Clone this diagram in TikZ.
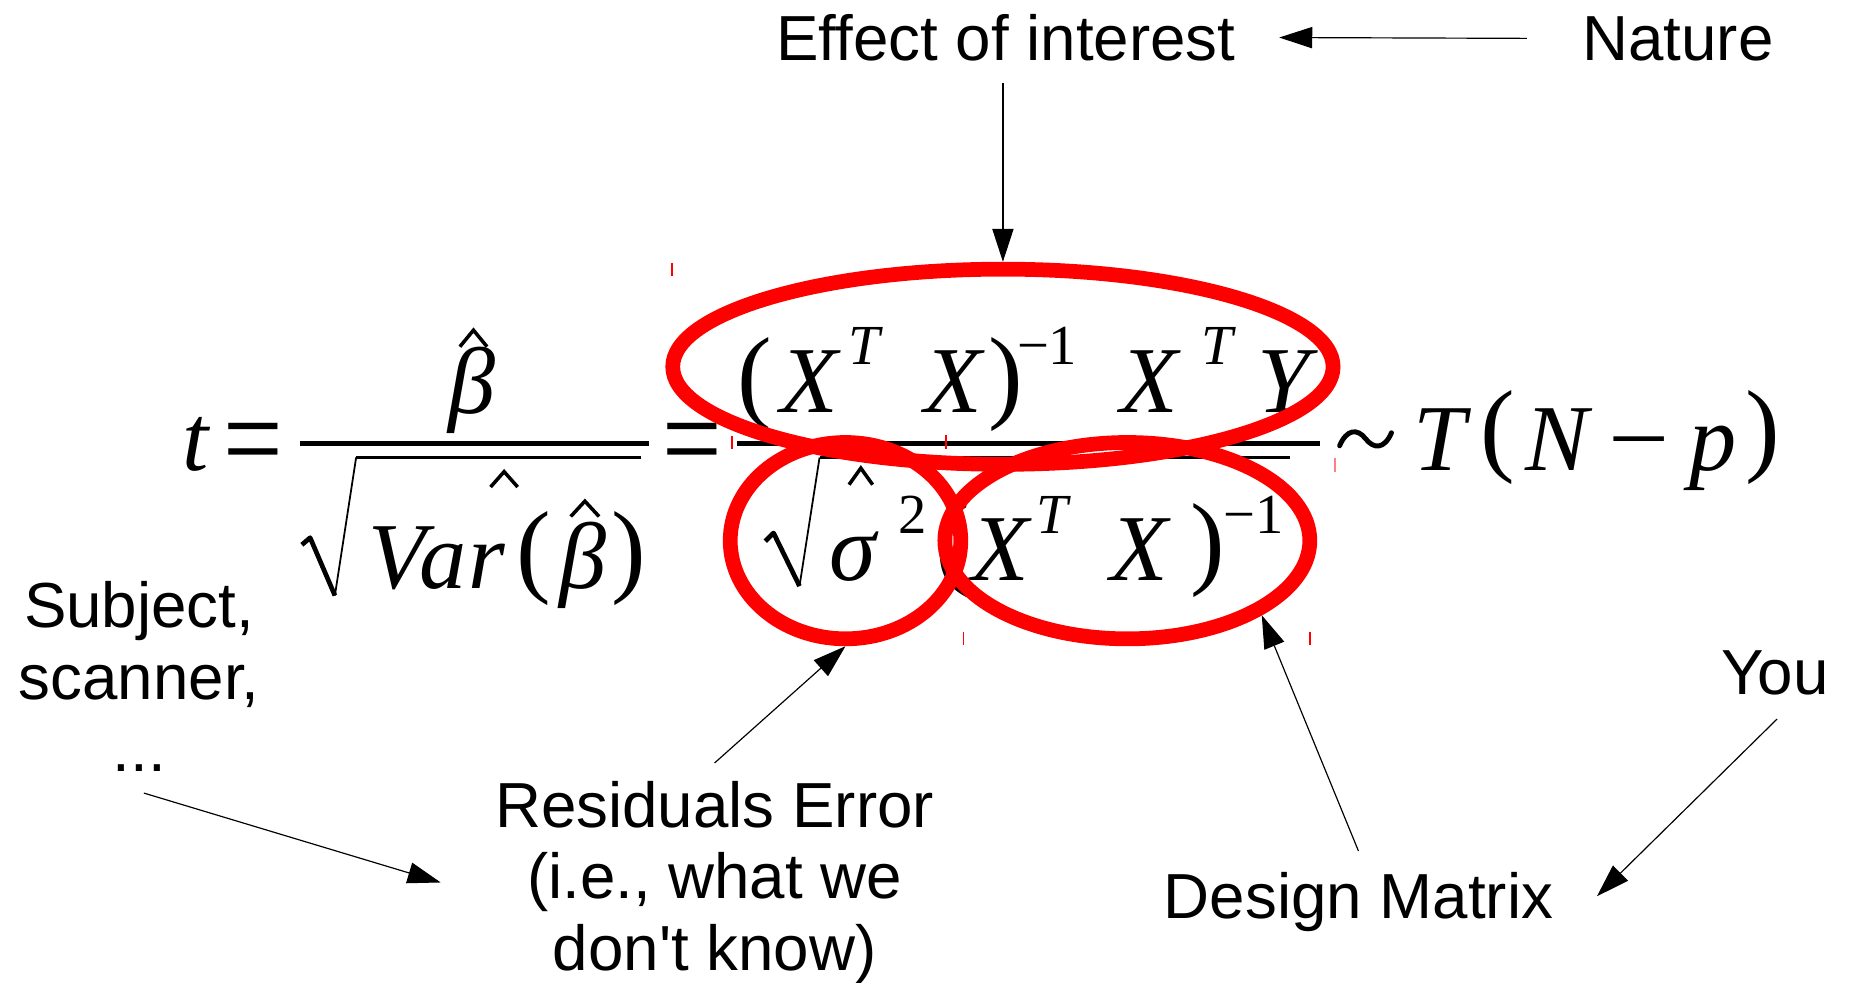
\documentclass[tikz,border=0pt]{standalone}
\usepackage{fontspec}
\usepackage{graphicx}
\setmainfont{Liberation Sans}[Ligatures=TeXOff]
\newfontfamily\mserif{Liberation Serif}[Ligatures=TeXOff]
\usetikzlibrary{arrows.meta,shapes.geometric}
\begin{document}
\begin{tikzpicture}[x=1pt,y=-1pt,
  lab/.style={font=\fontsize{54}{61}\selectfont, inner sep=0pt, align=center},
  mi/.style={font=\mserif\itshape\fontsize{80}{90}\selectfont, inner sep=0pt, anchor=base},
  mr/.style={font=\mserif\fontsize{80}{90}\selectfont, inner sep=0pt, anchor=base},
  pr/.style={font=\mserif\fontsize{88}{90}\selectfont, inner sep=0pt, anchor=base},
  si/.style={font=\mserif\itshape\fontsize{48}{50}\selectfont, inner sep=0pt, anchor=base},
  sr/.style={font=\mserif\fontsize{48}{50}\selectfont, inner sep=0pt, anchor=base},
  fbar/.style={line width=4.5pt},
  hatm/.style={line width=3pt, line join=miter},
  radthick/.style={line width=4pt, line join=round},
  radthin/.style={line width=1.5pt},
  radbar/.style={line width=3pt},
  tildem/.style={line width=4.2pt, line cap=round},
  ring/.style={draw=red, line width=12.5pt, ellipse, inner sep=0pt},
  arr/.style={line width=1pt, -{Triangle[length=28pt,width=18pt]}},
  tickm/.style={draw=red, line width=1.5pt},
]
\fill[white] (0,0) rectangle (1568,833);
\useasboundingbox (0,0) rectangle (1568,833);

% ---------- equation ----------
\node[mi] (mt) at (166,399) {t};
\node[mr] (meq1) at (215,408) {\scalebox{1.12}[1.35]{=}};
\node[mi] (mb1) at (400,351) {β};
\draw[fbar] (254,376) -- (550,376);
\draw[radthick] (256,462) -- (263,456) -- (284,505);
\draw[radthin] (284,505) -- (302,388);
\draw[radbar] (302,388) -- (544,388);
\node[mi] (mV) at (337,499) {V};
\node[mi] (ma) at (376,499) {a};
\node[mi] (mr1) at (413,499) {r};
\node[pr] (mlp1) at (453,495) {(};
\node[mi] (mb2) at (494,499) {β};
\node[pr] (mrp1) at (533,495) {)};
\draw[hatm] (390,294) -- (401.5,280) -- (413,294);
\draw[hatm] (416,413) -- (427.5,400) -- (439,413);
\draw[hatm] (484,438) -- (496,425) -- (508,438);
\node[mr] (meq2) at (587,408) {\scalebox{1.12}[1.35]{=}};

\draw[fbar] (625,376) -- (1119,376);
\node[pr] (nlp) at (640,347) {(};
\node[mi] (nX1) at (686,350) {X};
\node[si] (nT1) at (733,309) {T};
\node[mi] (nX2) at (808,350) {X};
\node[pr] (nrp) at (853,347) {)};
\node[sr] (nm1) at (888,309) {−1};
\node[mi] (nX3) at (975,350) {X};
\node[si] (nT2) at (1032,309) {T};
\node[mi] (nY) at (1089,350) {Y};

\draw[radthick] (649,459) -- (656,452) -- (678,497);
\draw[radthin] (678,497) -- (695,388);
\draw[radbar] (695,388) -- (1094,388);
\node[mi] (ds) at (723,492) {σ};
\draw[hatm] (720,411) -- (730,397) -- (740,411);
\node[sr] (d2) at (774,452) {2};
\node[pr] (dlp) at (808,488) {(};
\node[mi] (dX1) at (848,492) {X};
\node[si] (dT) at (892,452) {T};
\node[mi] (dX2) at (966,492) {X};
\node[pr] (drp) at (1024,488) {)};
\node[sr] (dm1) at (1063,452) {−1};

% tilde (similar to) drawn as a wave
\draw[tildem] (1136,378) .. controls (1142,364) and (1151,363) .. (1158,372)
  .. controls (1165,381) and (1174,381) .. (1180,367);
\node[mi] (tT) at (1221,399) {T};
\node[pr] (tlp) at (1270,392) {(};
\node[mi] (tN) at (1320,399) {N};
\node[mr] (tm) at (1390,399) {\scalebox{1.15}[1]{−}};
\node[mi] (tp) at (1453,399) {p};
\node[pr] (trp) at (1495,392) {)};

% ---------- red rings ----------
\node[ring, minimum width=560pt, minimum height=165.5pt] (bigell) at (850.5,311) {};
\node[ring, minimum width=195.5pt, minimum height=166.5pt] (lcirc) at (717,458.5) {};
\node[ring, minimum width=309.5pt, minimum height=166.5pt] (rell) at (956,458.5) {};

% small red marks
\draw[tickm] (570,223) -- (570,234);
\draw[tickm] (621,370) -- (621,381);
\draw[tickm] (802,369) -- (802,381);
\draw[tickm, draw=red!50] (1132,388) -- (1132,400);
\draw[tickm] (817,536) -- (817,547);
\draw[tickm] (1111,536) -- (1111,547);

% ---------- labels ----------
\node[lab, anchor=base] (effect) at (853,51) {Effect of interest};
\node[lab, anchor=base] (nature) at (1423,51) {Nature};
\node[lab, anchor=north] (subj) at (118,493) {Subject,\\scanner,\\...};
\node[lab, anchor=north] (resid) at (606,662) {Residuals Error\\(i.e., what we\\don't know)};
\node[lab, anchor=base] (design) at (1152,779) {Design Matrix};
\node[lab, anchor=base] (you) at (1505,589) {You};

% ---------- arrows ----------
\draw[arr, shorten <=47pt, shorten >=37pt] (nature.west) -- (effect.east);
\draw[arr, shorten <=19pt] (bigell.north |- effect.south) -- (bigell.north);
\draw[arr] ([shift={(0,-15)}]resid.north) -- (lcirc.south);
\draw[arr] ([shift={(0,-18)}]design.north) -- (rell.-29.4);
\draw[arr] ([shift={(4,18)}]subj.south) -- ([shift={(-46,0)}]resid.west);
\draw[arr] ([shift={(2,20)}]you.south) -- ([shift={(37,-5)}]design.east);
\end{tikzpicture}
\end{document}
